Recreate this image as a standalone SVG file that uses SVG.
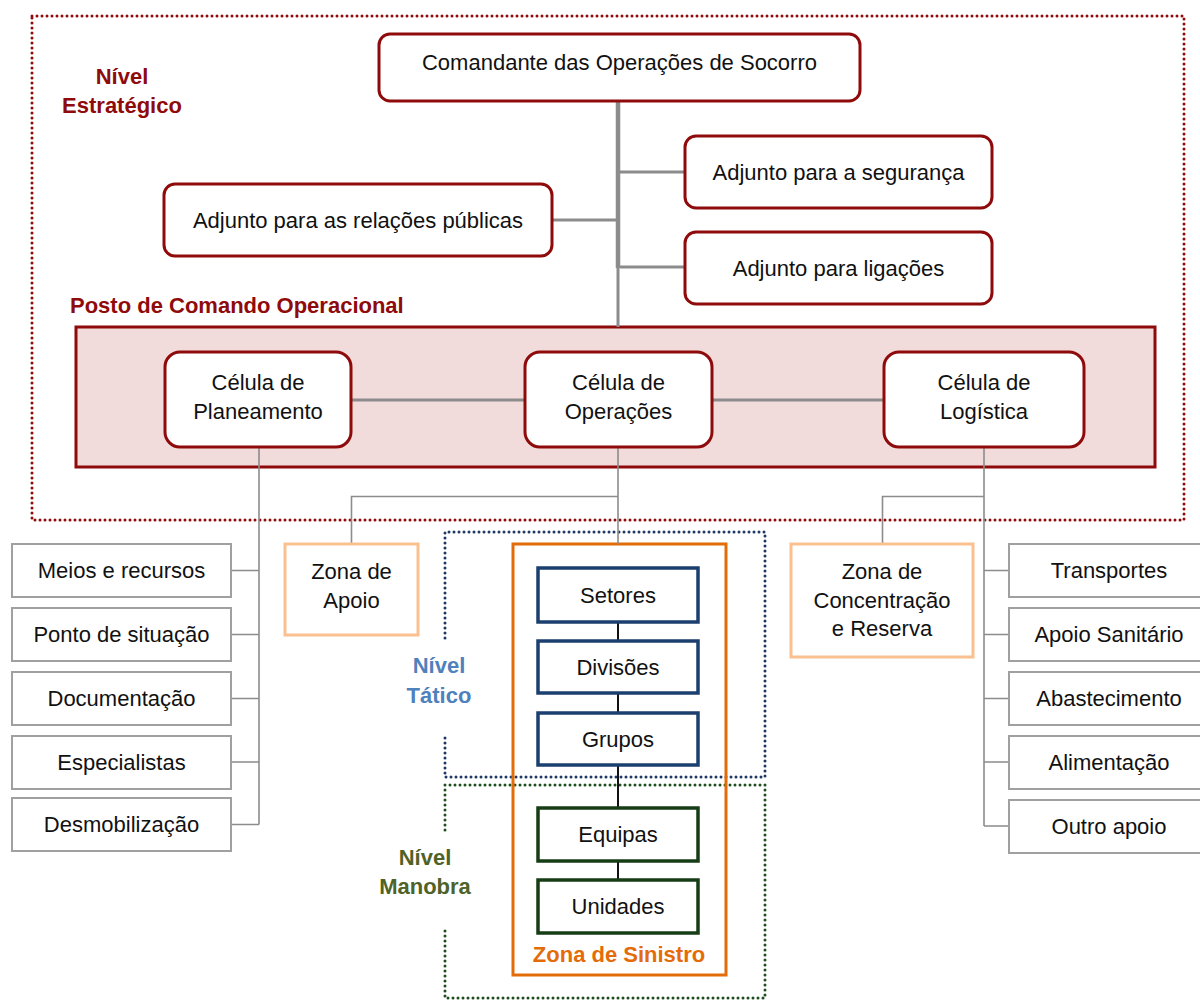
<svg xmlns="http://www.w3.org/2000/svg" width="1200" height="1001" viewBox="0 0 1200 1001">
<defs>
<style>
text{font-family:"Liberation Sans",Arial,sans-serif;font-size:22px;fill:#111;text-anchor:middle}
.lbl{font-weight:bold}
.red{fill:#8f0a0a}
.blueT{fill:#4f81bd}
.greenT{fill:#4f6228}
.orangeT{fill:#e36c09}
.rbox{fill:#fff;stroke:#8f0a0a;stroke-width:3}
.gbox{fill:#fff;stroke:#a0a0a0;stroke-width:2}
.zbox{fill:#fff;stroke:#fac090;stroke-width:3}
.bbox{fill:#fff;stroke:#1b3f6e;stroke-width:3.5}
.dbox{fill:#fff;stroke:#163d16;stroke-width:3.5}
.thick{fill:none;stroke:#8c8c8c;stroke-width:3}
.thin{fill:none;stroke:#8c8c8c;stroke-width:1.6}
.blk{fill:none;stroke:#111;stroke-width:2}
.dotR{fill:none;stroke:#8f0a0a;stroke-width:3;stroke-dasharray:0 5;stroke-linecap:round}
.dotB{fill:none;stroke:#1f3864;stroke-width:3;stroke-dasharray:0 5;stroke-linecap:round}
.dotG{fill:none;stroke:#1e4d1e;stroke-width:3;stroke-dasharray:0 5;stroke-linecap:round}
</style>
</defs>
<rect width="1200" height="1001" fill="#fff"/>

<!-- level regions -->
<g id="nivel-estrategico">
<rect class="dotR" x="32" y="16" width="1152" height="504"/>
<text class="lbl red" x="122" y="84">Nível</text>
<text class="lbl red" x="122" y="113">Estratégico</text>
</g>
<g id="nivel-tatico">
<path class="dotB" d="M445,638 V532 H765 V777 H445 V737"/>
<text class="lbl blueT" x="439" y="673">Nível</text>
<text class="lbl blueT" x="439" y="703">Tático</text>
</g>
<g id="nivel-manobra">
<path class="dotG" d="M445,830 V785 H765 V998 H445 V927"/>
<text class="lbl greenT" x="425" y="865">Nível</text>
<text class="lbl greenT" x="425" y="894">Manobra</text>
</g>

<g id="posto-comando">
<rect x="76" y="327" width="1079" height="140" fill="#f2dcdb" stroke="#8f0a0a" stroke-width="3"/>
<text class="lbl red" x="70" y="313" style="text-anchor:start">Posto de Comando Operacional</text>
</g>

<g id="zona-sinistro">
<rect x="513" y="544" width="213" height="431" fill="none" stroke="#e36c09" stroke-width="3"/>
<text class="lbl orangeT" x="619" y="962">Zona de Sinistro</text>
</g>

<!-- connectors -->
<g id="connectors">
<path d="M618,101 V268" fill="none" stroke="#8c8c8c" stroke-width="4.5"/>
<path class="thick" d="M618,268 V327"/>
<path class="thick" d="M620,172 H685"/>
<path class="thick" d="M552,220 H616"/>
<path class="thick" d="M620,267 H685"/>
<path class="thick" d="M351,400 H525"/>
<path class="thick" d="M712,400 H884"/>
<path class="thin" d="M259,447 V824.5"/>
<path class="thin" d="M231,570.5 H259 M231,634.5 H259 M231,698.5 H259 M231,762 H259 M231,824.5 H259"/>
<path class="thin" d="M618,447 V544"/>
<path class="thin" d="M618,496.5 H351.5 V544"/>
<path class="thin" d="M984,447 V826"/>
<path class="thin" d="M984,496.5 H882.5 V544"/>
<path class="thin" d="M984,570.5 H1009 M984,634.5 H1009 M984,698.5 H1009 M984,762 H1009 M984,826 H1009"/>
<path class="blk" d="M618,622 V641 M618,693 V713 M618,765 V808 M618,861 V880"/>
</g>

<!-- strategic nodes -->
<g id="comandante">
<rect class="rbox" x="379" y="34" width="481" height="67" rx="11"/>
<text x="619.5" y="70">Comandante das Operações de Socorro</text>
</g>
<g id="adjunto-seguranca">
<rect class="rbox" x="685" y="136" width="307" height="72" rx="11"/>
<text x="838.5" y="180">Adjunto para a segurança</text>
</g>
<g id="adjunto-relacoes">
<rect class="rbox" x="164" y="184" width="388" height="72" rx="11"/>
<text x="358" y="228">Adjunto para as relações públicas</text>
</g>
<g id="adjunto-ligacoes">
<rect class="rbox" x="685" y="232" width="307" height="72" rx="11"/>
<text x="838.5" y="276">Adjunto para ligações</text>
</g>

<!-- cells -->
<g id="celula-planeamento">
<rect class="rbox" x="165" y="352" width="186" height="95" rx="15"/>
<text x="258" y="390">Célula de</text>
<text x="258" y="419">Planeamento</text>
</g>
<g id="celula-operacoes">
<rect class="rbox" x="525" y="352" width="187" height="95" rx="15"/>
<text x="618.5" y="390">Célula de</text>
<text x="618.5" y="419">Operações</text>
</g>
<g id="celula-logistica">
<rect class="rbox" x="884" y="352" width="200" height="95" rx="15"/>
<text x="984" y="390">Célula de</text>
<text x="984" y="419">Logística</text>
</g>

<!-- planning children -->
<g id="meios-recursos"><rect class="gbox" x="12" y="544" width="219" height="53"/><text x="121.5" y="578">Meios e recursos</text></g>
<g id="ponto-situacao"><rect class="gbox" x="12" y="608" width="219" height="53"/><text x="121.5" y="642">Ponto de situação</text></g>
<g id="documentacao"><rect class="gbox" x="12" y="672" width="219" height="53"/><text x="121.5" y="706">Documentação</text></g>
<g id="especialistas"><rect class="gbox" x="12" y="736" width="219" height="53"/><text x="121.5" y="770">Especialistas</text></g>
<g id="desmobilizacao"><rect class="gbox" x="12" y="798" width="219" height="53"/><text x="121.5" y="832">Desmobilização</text></g>

<!-- zones -->
<g id="zona-apoio">
<rect class="zbox" x="285" y="544" width="133" height="91"/>
<text x="351.5" y="579">Zona de</text>
<text x="351.5" y="608">Apoio</text>
</g>
<g id="zona-concentracao">
<rect class="zbox" x="791" y="544" width="182" height="113"/>
<text x="882" y="579">Zona de</text>
<text x="882" y="608">Concentração</text>
<text x="882" y="636">e Reserva</text>
</g>

<!-- operations chain -->
<g id="setores"><rect class="bbox" x="538" y="568" width="160" height="54"/><text x="618" y="603">Setores</text></g>
<g id="divisoes"><rect class="bbox" x="538" y="641" width="160" height="52"/><text x="618" y="675">Divisões</text></g>
<g id="grupos"><rect class="bbox" x="538" y="713" width="160" height="52"/><text x="618" y="747">Grupos</text></g>
<g id="equipas"><rect class="dbox" x="538" y="808" width="160" height="53"/><text x="618" y="842">Equipas</text></g>
<g id="unidades"><rect class="dbox" x="538" y="880" width="160" height="53"/><text x="618" y="914">Unidades</text></g>

<!-- logistics children -->
<g id="transportes"><rect class="gbox" x="1009" y="544" width="200" height="53"/><text x="1109" y="578">Transportes</text></g>
<g id="apoio-sanitario"><rect class="gbox" x="1009" y="608" width="200" height="53"/><text x="1109" y="642">Apoio Sanitário</text></g>
<g id="abastecimento"><rect class="gbox" x="1009" y="672" width="200" height="53"/><text x="1109" y="706">Abastecimento</text></g>
<g id="alimentacao"><rect class="gbox" x="1009" y="736" width="200" height="53"/><text x="1109" y="770">Alimentação</text></g>
<g id="outro-apoio"><rect class="gbox" x="1009" y="800" width="200" height="53"/><text x="1109" y="834">Outro apoio</text></g>
</svg>
